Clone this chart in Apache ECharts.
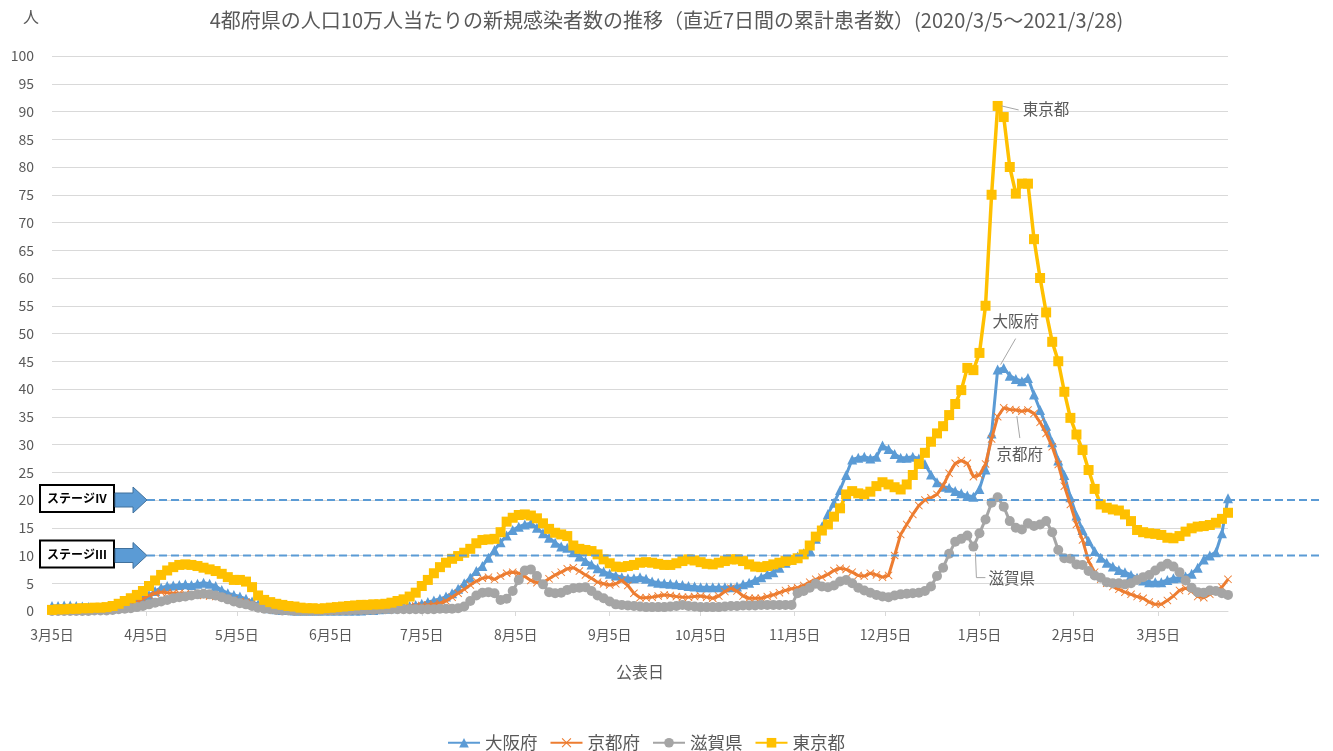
<!DOCTYPE html>
<html>
<head>
<meta charset="utf-8">
<title>4都府県の人口10万人当たりの新規感染者数の推移</title>
<script src="https://cdn.jsdelivr.net/npm/echarts@6/dist/echarts.min.js"></script>
<style>
    html, body { margin: 0; padding: 0; background: #fff; }
    #chart { width: 1333px; height: 751px; }
</style>
</head>
<body>
<div id="chart"></div>
<script>
// 公表日 2020/3/5 から 2日おきの値（直近7日間の累計、人口10万人当たり）
const startDate = [2020, 2, 5];
const stepDays = 2;

const osaka = [
    0.9, 0.9, 1.0, 1.0, 0.9, 0.8, 0.7, 0.6, 0.6, 0.6,
    0.7, 0.8, 1.0, 1.4, 1.8, 2.3, 2.9, 3.6, 4.2, 4.5,
    4.6, 4.7, 4.8, 4.7, 4.9, 5.1, 4.9, 4.5, 3.8, 3.2,
    2.9, 2.6, 2.2, 1.7, 1.2, 0.8, 0.5, 0.3, 0.2, 0.2,
    0.1, 0.1, 0.1, 0.1, 0.1, 0.1, 0.1, 0.1, 0.1, 0.1,
    0.1, 0.1, 0.2, 0.2, 0.3, 0.4, 0.5, 0.6, 0.8, 0.9,
    1.1, 1.3, 1.6, 1.9, 2.2, 2.6, 3.2, 4.0, 5.0, 6.0,
    7.2, 8.1, 9.6, 11.0, 12.4, 13.6, 14.6, 15.2, 15.6, 15.8,
    15.0, 14.0, 13.2, 12.3, 11.6, 11.4, 10.6, 9.8, 9.0, 8.4,
    7.7, 7.1, 6.7, 6.4, 6.1, 5.9, 5.9, 6.1, 5.8, 5.3,
    5.1, 5.0, 4.9, 4.8, 4.7, 4.5, 4.4, 4.3, 4.3, 4.3,
    4.3, 4.3, 4.3, 4.4, 4.8, 5.1, 5.6, 6.1, 6.6, 7.0,
    7.8, 8.7, 9.3, 9.8, 10.4, 11.0, 13.0, 15.2, 17.5, 19.5,
    21.8, 24.5, 27.3, 27.6, 27.8, 27.5, 27.8, 29.8, 29.2, 28.3,
    27.6, 27.6, 27.8, 27.5, 26.5, 24.6, 23.2, 22.4, 22.2, 21.6,
    21.2, 20.8, 20.6, 22.0, 25.5, 32.0, 43.5, 43.8, 42.4, 41.8,
    41.4, 42.0, 39.0, 36.2, 33.4, 30.4, 27.1, 24.5, 20.5, 17.2,
    14.6, 12.6, 10.8, 9.6, 8.7, 8.0, 7.4, 7.0, 6.5, 6.0,
    5.5, 5.2, 5.2, 5.2, 5.6, 5.9, 6.0, 6.2, 6.7, 7.8,
    9.3, 10.0, 10.6, 14.0, 20.3
];

const kyoto = [
    0.1, 0.1, 0.1, 0.2, 0.2, 0.3, 0.3, 0.3, 0.4, 0.4,
    0.5, 0.6, 0.8, 1.1, 1.6, 2.2, 2.8, 3.2, 3.4, 3.3,
    3.2, 3.2, 3.1, 3.0, 2.9, 2.8, 2.7, 2.6, 2.5, 2.3,
    2.0, 1.7, 1.6, 1.4, 1.0, 0.7, 0.4, 0.3, 0.2, 0.2,
    0.1, 0.1, 0.1, 0.0, 0.0, 0.0, 0.0, 0.0, 0.1, 0.1,
    0.1, 0.1, 0.2, 0.2, 0.3, 0.4, 0.5, 0.6, 0.7, 0.8,
    0.9, 1.0, 1.1, 1.2, 1.4, 1.8, 2.5, 3.2, 3.9, 4.7,
    5.4, 5.9, 6.1, 5.7, 6.3, 6.8, 7.0, 6.8, 6.2, 5.5,
    5.1, 5.1, 5.8, 6.5, 7.0, 7.6, 7.8, 7.2, 6.5, 5.9,
    5.2, 4.9, 4.7, 4.9, 5.5, 4.6, 3.2, 2.4, 2.4, 2.5,
    2.7, 2.9, 2.8, 2.6, 2.5, 2.5, 2.6, 2.7, 2.5, 2.3,
    2.7, 3.5, 4.1, 3.6, 2.7, 2.3, 2.3, 2.3, 2.6, 2.9,
    3.3, 3.7, 4.0, 4.2, 4.6, 5.2, 5.7, 6.1, 6.6, 7.3,
    7.7, 7.5, 7.0, 6.4, 6.3, 6.8, 6.5, 6.1, 6.4, 10.0,
    13.8, 15.6, 17.4, 19.0, 20.0, 20.4, 21.0, 22.6, 24.8, 26.6,
    27.1, 26.6, 24.2, 24.5, 26.5, 31.0, 35.0, 36.6, 36.3, 36.2,
    36.0, 36.2, 35.6, 34.0, 32.0, 29.6, 26.4, 22.5, 19.2, 15.6,
    12.8, 9.0, 7.0, 5.7, 5.0, 4.4, 3.9, 3.4, 3.0, 2.6,
    2.3, 1.6, 1.2, 1.2, 1.9, 2.7, 3.7, 4.1, 3.6, 2.6,
    2.4, 3.0, 3.6, 4.3, 5.7
];

const shiga = [
    0.0, 0.0, 0.0, 0.0, 0.0, 0.0, 0.0, 0.1, 0.1, 0.1,
    0.2, 0.3, 0.4, 0.5, 0.7, 0.9, 1.2, 1.5, 1.7, 2.0,
    2.3, 2.5, 2.6, 2.8, 3.0, 3.1, 3.0, 2.8, 2.5, 2.1,
    1.7, 1.4, 1.2, 0.9, 0.6, 0.4, 0.3, 0.2, 0.1, 0.1,
    0.0, 0.0, 0.0, 0.0, 0.0, 0.1, 0.1, 0.1, 0.1, 0.1,
    0.2, 0.2, 0.2, 0.2, 0.3, 0.3, 0.3, 0.3, 0.3, 0.3,
    0.3, 0.3, 0.3, 0.3, 0.4, 0.4, 0.4, 0.5, 0.8, 1.8,
    2.8, 3.3, 3.4, 3.2, 2.0, 2.2, 3.6, 5.6, 7.3, 7.5,
    6.3, 4.8, 3.4, 3.2, 3.3, 3.8, 4.1, 4.2, 4.3, 3.6,
    2.8, 2.3, 1.7, 1.2, 1.1, 1.0, 0.9, 0.8, 0.7, 0.7,
    0.7, 0.7, 0.8, 0.9, 1.1, 0.9, 0.8, 0.7, 0.7, 0.7,
    0.7, 0.8, 0.9, 0.9, 1.0, 1.0, 1.0, 1.1, 1.1, 1.1,
    1.1, 1.1, 1.1, 3.2, 3.6, 4.2, 4.9, 4.4, 4.3, 4.6,
    5.3, 5.6, 5.0, 4.2, 3.7, 3.3, 2.9, 2.6, 2.5, 2.8,
    3.0, 3.1, 3.2, 3.3, 3.6, 4.4, 6.3, 7.8, 10.3, 12.5,
    13.0, 13.6, 11.6, 14.0, 16.5, 19.5, 20.5, 18.8, 16.2, 15.0,
    14.7, 15.8, 15.3, 15.6, 16.2, 14.2, 11.0, 9.5, 9.4, 8.4,
    8.3, 7.2, 6.4, 6.0, 5.2, 5.0, 5.0, 4.8, 5.0, 5.6,
    6.1, 6.5, 7.3, 8.0, 8.5, 8.0, 7.0, 5.5, 4.2, 3.4,
    3.3, 3.7, 3.6, 3.2, 2.9
];

const tokyo = [
    0.2, 0.3, 0.3, 0.4, 0.4, 0.5, 0.5, 0.6, 0.6, 0.7,
    0.9, 1.3, 1.8, 2.3, 2.9, 3.6, 4.5, 5.5, 6.5, 7.3,
    7.9, 8.3, 8.4, 8.3, 8.1, 7.8, 7.5, 7.2, 6.7, 6.1,
    5.6, 5.6, 5.3, 4.3, 2.8, 2.0, 1.6, 1.3, 1.1, 0.9,
    0.8, 0.6, 0.5, 0.5, 0.4, 0.5, 0.6, 0.7, 0.8, 0.9,
    1.0, 1.1, 1.1, 1.2, 1.2, 1.3, 1.5, 1.8, 2.1, 2.6,
    3.3, 4.5, 5.6, 6.8, 7.9, 8.7, 9.4, 9.9, 10.5, 11.2,
    12.2, 12.8, 12.9, 13.0, 14.2, 16.1, 16.8, 17.3, 17.4, 17.2,
    16.7, 15.8, 14.8, 14.1, 13.8, 13.5, 11.8, 11.2, 11.0, 10.8,
    10.2, 9.3, 8.6, 8.0, 7.9, 8.1, 8.3, 8.7, 8.8, 8.7,
    8.5, 8.3, 8.3, 8.6, 9.0, 9.3, 9.1, 8.8, 8.5, 8.4,
    8.7, 9.0, 9.3, 9.3, 9.0, 8.4, 8.0, 7.9, 8.1, 8.4,
    8.7, 9.0, 9.2, 9.5, 10.2, 11.8, 13.4, 14.5, 15.6, 17.0,
    18.5, 21.0, 21.6, 21.2, 21.0, 21.5, 22.5, 23.2, 22.8, 22.3,
    21.9, 22.8, 24.5, 26.5, 28.5, 30.5, 32.0, 33.3, 35.3, 37.3,
    39.8, 43.8, 43.4, 46.5, 55.0, 75.0, 91.0, 89.0, 80.0, 75.2,
    77.0, 77.0, 67.0, 60.0, 53.8, 48.5, 45.0, 39.5, 34.8, 31.8,
    29.0, 25.4, 22.0, 19.2, 18.6, 18.3, 18.1, 17.4, 16.2, 14.6,
    14.2, 14.0, 13.9, 13.7, 13.2, 13.1, 13.5, 14.3, 14.9, 15.2,
    15.3, 15.5, 15.9, 16.6, 17.7
];

const seriesNames = ['大阪府', '京都府', '滋賀県', '東京都'];
const tickDates = [
    '2020-03-05', '2020-04-05', '2020-05-05', '2020-06-05', '2020-07-05',
    '2020-08-05', '2020-09-05', '2020-10-05', '2020-11-05', '2020-12-05',
    '2021-01-05', '2021-02-05', '2021-03-05'
];
const stageLevels = [20, 10];
const stageNames = ['ステージⅣ', 'ステージⅢ'];

const titleText = '4都府県の人口10万人当たりの新規感染者数の推移（直近7日間の累計患者数）(2020/3/5～2021/3/28)';
const FONT = '"Noto Sans CJK JP", "Noto Sans", sans-serif';
const TEXT_COLOR = '#595959';
const DAY = 86400000;
const startUtc = Date.UTC(startDate[0], startDate[1], startDate[2]);

// 横軸は 2020/3/5 からの経過日数
function dayOf(s) {
    let p = s.split('-');
    return Math.round((Date.UTC(+p[0], +p[1] - 1, +p[2]) - startUtc) / DAY);
}

function dateLabel(day) {
    let d = new Date(startUtc + day * DAY);
    return (d.getUTCMonth() + 1) + '月' + d.getUTCDate() + '日';
}

function toPairs(values) {
    return values.map((v, i) => [i * stepDays, v]);
}

const ticks = tickDates.map(dayOf);
const lastDay = (tokyo.length - 1) * stepDays;
// 細めの「×」マーカー
const xPath = 'path://M0.8,0L5,4.2L9.2,0L10,0.8L5.8,5L10,9.2L9.2,10L5,5.8L0.8,10L0,9.2L4.2,5L0,0.8Z';

const looks = [
    { values: osaka, color: '#5B9BD5', symbol: 'triangle', size: 10 },
    { values: kyoto, color: '#ED7D31', symbol: xPath, size: 8 },
    { values: shiga, color: '#A5A5A5', symbol: 'circle', size: 10 },
    { values: tokyo, color: '#FFC000', symbol: 'rect', size: 10 }
];

const chart = echarts.init(document.getElementById('chart'));

chart.setOption({
    animation: false,
    textStyle: { fontFamily: FONT },
    title: {
        text: titleText,
        left: 'center',
        top: 5,
        textStyle: { color: TEXT_COLOR, fontSize: 20, fontWeight: 'normal', fontFamily: FONT }
    },
    legend: {
        data: seriesNames,
        left: 442,
        top: 729,
        itemWidth: 32,
        itemHeight: 12,
        itemGap: 12,
        textStyle: { color: TEXT_COLOR, fontSize: 17.5, fontFamily: FONT }
    },
    grid: { left: 52, right: 105, top: 56, bottom: 140, containLabel: false },
    xAxis: {
        type: 'value',
        min: 0,
        max: lastDay,
        name: '公表日',
        nameLocation: 'middle',
        nameGap: 53,
        nameTextStyle: { color: TEXT_COLOR, fontSize: 16, fontFamily: FONT },
        axisLine: { show: true, lineStyle: { color: '#d9d9d9', width: 1 } },
        axisTick: { show: true, customValues: ticks, length: 5, lineStyle: { color: '#d9d9d9' } },
        axisLabel: {
            customValues: ticks,
            color: TEXT_COLOR,
            fontSize: 14,
            margin: 17,
            fontFamily: FONT,
            formatter: v => dateLabel(v)
        },
        splitLine: { show: false }
    },
    yAxis: {
        type: 'value',
        min: 0,
        max: 100,
        interval: 5,
        axisLine: { show: false },
        axisTick: { show: false },
        axisLabel: { color: TEXT_COLOR, fontSize: 14, margin: 18, fontFamily: FONT },
        splitLine: { lineStyle: { color: '#d9d9d9', width: 1 } }
    },
    series: looks.map((s, i) => ({
        name: seriesNames[i],
        type: 'line',
        data: toPairs(s.values),
        symbol: s.symbol,
        symbolSize: s.size,
        showAllSymbol: true,
        lineStyle: { color: s.color, width: i === 3 ? 3.5 : 3 },
        itemStyle: { color: s.color, borderColor: s.color, borderWidth: 0 },
        emphasis: { disabled: true },
        z: 2 + i
    }))
});

// 注記（ステージの目安線と系列名のラベル）
function anchor(values, day) {
    return chart.convertToPixel('grid', [day, values[day / stepDays]]);
}

let graphics = [];

graphics.push({
    type: 'text', x: 31, y: 17, z: 100,
    style: { text: '人', fill: TEXT_COLOR, font: '16px ' + FONT, align: 'center', verticalAlign: 'middle' }
});

stageLevels.forEach((level, i) => {
    let y = chart.convertToPixel('grid', [0, level])[1];
    graphics.push({
        type: 'line', z: 100,
        shape: { x1: 147, y1: y, x2: 1323, y2: y },
        style: { stroke: '#5B9BD5', lineWidth: 2, lineDash: [8, 4] }
    });
    graphics.push({
        type: 'rect', z: 101,
        shape: { x: 40, y: y - 15, width: 74, height: 27 },
        style: { fill: '#fff', stroke: '#000', lineWidth: 2 }
    });
    graphics.push({
        type: 'text', x: 77, y: y - 1.5, z: 102,
        style: { text: stageNames[i], fill: '#000', font: 'bold 12px ' + FONT, align: 'center', verticalAlign: 'middle' }
    });
    graphics.push({
        type: 'polygon', z: 101,
        shape: { points: [[115, y - 7], [133, y - 7], [133, y - 13], [147, y], [133, y + 13], [133, y + 7], [115, y + 7]] },
        style: { fill: '#5B9BD5', stroke: '#41719C', lineWidth: 1 }
    });
});

function callout(values, day, text, leader, tx, ty, align) {
    let p = anchor(values, day);
    graphics.push({
        type: 'polyline', z: 100,
        shape: { points: leader.map(q => [p[0] + q[0], p[1] + q[1]]) },
        style: { stroke: '#a6a6a6', lineWidth: 1, fill: null }
    });
    graphics.push({
        type: 'text', x: p[0] + tx, y: p[1] + ty, z: 100,
        style: { text: text, fill: TEXT_COLOR, font: '15.5px ' + FONT, align: align, verticalAlign: 'middle' }
    });
}

callout(tokyo, 312, seriesNames[3], [[4, 0], [21, 4]], 25, 3, 'left');
callout(osaka, 312, seriesNames[0], [[3, -5], [18, -31]], 18, -48, 'center');
callout(kyoto, 318, seriesNames[1], [[1, 6], [4, 28]], 4, 44, 'center');
callout(shiga, 304, seriesNames[2], [[2, 6], [3, 31], [12, 31]], 15, 31, 'left');

chart.setOption({ graphic: graphics });
</script>
</body>
</html>
